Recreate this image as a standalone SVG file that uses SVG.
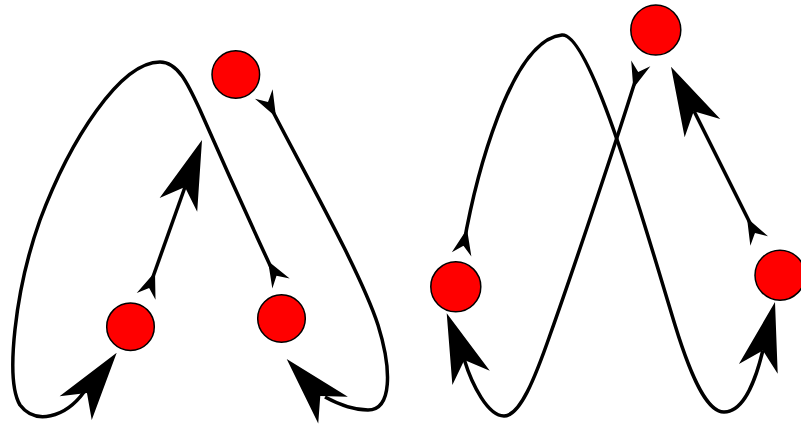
<svg xmlns="http://www.w3.org/2000/svg" xmlns:xlink="http://www.w3.org/1999/xlink" width="801" height="426" viewBox="0 0 801 426">
  <style>
    .edge { fill: none; stroke: #000; stroke-width: 3.5; stroke-linecap: butt; }
    .node { fill: #ff0000; stroke: #000; stroke-width: 1.5; }
    .head { fill: #000; stroke: none; }
  </style>
  <defs>
    <path id="big" class="head" d="M0,0 L-69,-20 L-50,0 L-69,20 Z"/>
    <path id="small" class="head" d="M0,0 L-26,-10 L-17,0 L-26,10 Z"/>
  </defs>
  <rect width="801" height="426" fill="#fff"/>
  <g id="connectors">
    <!-- left diagram -->
    <path class="edge" d="M275,276 C262,248 222,160 200,110 C188,84 178,62 160,62 C120,62 70,140 40,220 C15,290 5,380 20,405 C35,425 65,418 84,392"/>
    <use href="#small" transform="translate(268,261) rotate(-120)"/>
    <use href="#big" transform="translate(116.7,352.7) rotate(-53.5)"/>
    <path class="edge" d="M149,288 L185,187"/>
    <use href="#small" transform="translate(155,272) rotate(-70)"/>
    <use href="#big" transform="translate(202,140) rotate(-70)"/>
    <path class="edge" d="M268,102 C300,165 360,270 378,325 C392,370 392,410 368,410 C352,410 338,404 325,397"/>
    <use href="#small" transform="translate(276,117) rotate(62)"/>
    <use href="#big" transform="translate(286.7,359) rotate(-132.2)"/>
    <!-- right diagram -->
    <path class="edge" d="M463.5,245.6 C475,180 510,40 562,35 C590,33 640,210 675,325 C695,390 710,412 724,412 C745,412 757,375 762.8,350.5"/>
    <use href="#small" transform="translate(467,229) rotate(-78)"/>
    <use href="#big" transform="translate(775,302) rotate(-76)"/>
    <path class="edge" d="M638,72 C620,130 575,265 550,335 C535,378 520,416 504,416 C488,416 472,385 464.4,360.1"/>
    <use href="#small" transform="translate(633.3,88.3) rotate(106.7)"/>
    <use href="#big" transform="translate(446.7,313.3) rotate(-110.7)"/>
    <path class="edge" d="M755,233 L694,111"/>
    <use href="#small" transform="translate(747,218) rotate(-117.9)"/>
    <use href="#big" transform="translate(671,66.7) rotate(-117.1)"/>
  </g>
  <g id="n1"><circle class="node" cx="235.8" cy="74.5" r="23.8"/></g>
  <g id="n2"><circle class="node" cx="130.5" cy="326.7" r="23.8"/></g>
  <g id="n3"><circle class="node" cx="281.5" cy="318.5" r="23.8"/></g>
  <g id="n4"><circle class="node" cx="655.8" cy="30" r="25"/></g>
  <g id="n5"><circle class="node" cx="455.8" cy="286.8" r="25"/></g>
  <g id="n6"><circle class="node" cx="780" cy="275.2" r="25"/></g>
</svg>
